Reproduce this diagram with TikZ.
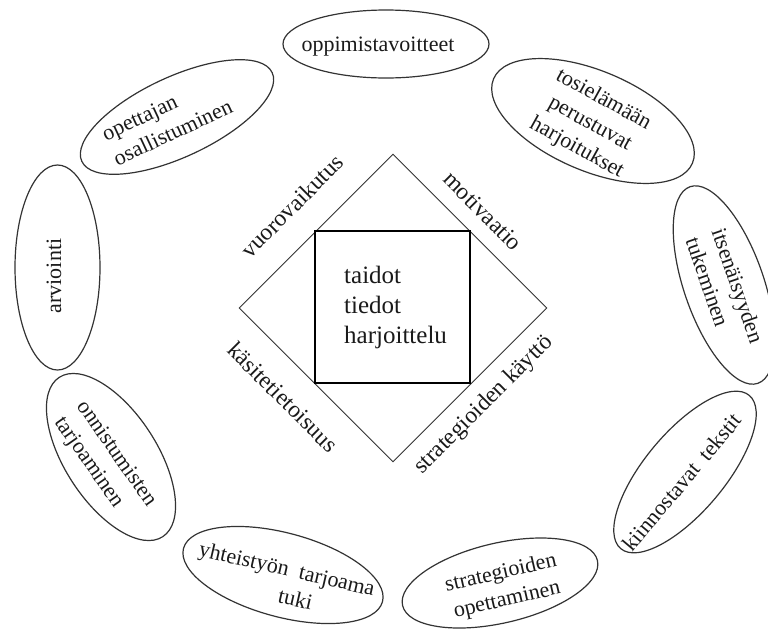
\documentclass[tikz,border=0pt]{standalone}
\usepackage{fontspec}
\setmainfont{Liberation Serif}
\usetikzlibrary{shapes.geometric}
\definecolor{linecol}{HTML}{333333}
\definecolor{textcol}{HTML}{1A1A1A}
\tikzset{
  oval/.style={draw=linecol, line width=1.2pt, ellipse, inner sep=0pt},
  otext/.style={font=\fontsize{22}{27.5}\selectfont, inner sep=0pt, text=textcol},
  dtext/.style={font=\fontsize{23.5}{28}\selectfont, inner sep=0pt, text=textcol},
  ctext/.style={font=\fontsize{25}{30}\selectfont, inner sep=0pt, text=textcol, align=left},
}
\begin{document}
\begin{tikzpicture}[x=1pt, y=-1pt]
\useasboundingbox[fill=white] (0,0) rectangle (768,630);

% central diamond and square
\node[draw=linecol, line width=0.9pt, diamond, aspect=1, inner sep=0pt,
      minimum width=308, minimum height=308] (dia) at (393,308) {};
\node[draw=black, line width=2.3pt, rectangle, inner sep=0pt,
      minimum width=155, minimum height=152] (sq) at (392.5,307) {};
\node[ctext, anchor=west] (core) at (344,307) {taidot\\tiedot\\harjoittelu};

% diamond edge labels
\node[dtext, rotate=45]  (l1) at (292,206) {vuorovaikutus};
\node[dtext, rotate=-45] (l2) at (483,211) {motivaatio};
\node[dtext, rotate=-45] (l3) at (283,397) {käsitetietoisuus};
\node[dtext, rotate=45]  (l4) at (484,405) {strategioiden käyttö};

% ovals
\node[oval, minimum width=206, minimum height=68] (e1) at (386,44) {};
\node[otext] (t1) at (378,47) {oppimistavoitteet};

\node[oval, minimum width=216, minimum height=100, rotate=-23] (e2) at (593,121) {};
\node[otext, rotate=-29, align=center] (t2) at (590,124) {tosielämään\\perustuvat\\harjoitukset};

\node[oval, minimum width=210, minimum height=80, rotate=25] (e3) at (177,117) {};
\node[otext, rotate=25, align=left] (t3) at (167,120) {opettajan\\osallistuminen};

\node[oval, minimum width=208, minimum height=80, rotate=-71] (e4) at (724,285) {};
\node[otext, rotate=-71, align=left] (t4) at (725,290) {itsenäisyyden\\tukeminen};

\node[oval, minimum width=85, minimum height=205] (e5) at (57.5,267.5) {};
\node[otext, rotate=90] (t5) at (54,276) {arviointi};

\node[oval, minimum width=190, minimum height=92, rotate=-57] (e6) at (111,457) {};
\node[otext, rotate=-55, align=left] (t6) at (105,462) {onnistumisten\\tarjoaminen};

\node[oval, minimum width=206, minimum height=84, rotate=-15] (e7) at (283,575) {};
\node[otext, rotate=-13, align=center] (t7) at (284,582) {yhteistyön\hspace{0.5em}tarjoama\\\hspace*{30pt}tuki};

\node[oval, minimum width=200, minimum height=80, rotate=13] (e8) at (500,583) {};
\node[otext, rotate=13, align=center] (t8) at (504,587) {strategioiden\\opettaminen};

\node[oval, minimum width=200, minimum height=80, rotate=50] (e9) at (685,472) {};
\node[otext, rotate=50] (t9) at (682,482) {kiinnostavat\hspace{0.45em}tekstit};
\end{tikzpicture}
\end{document}
